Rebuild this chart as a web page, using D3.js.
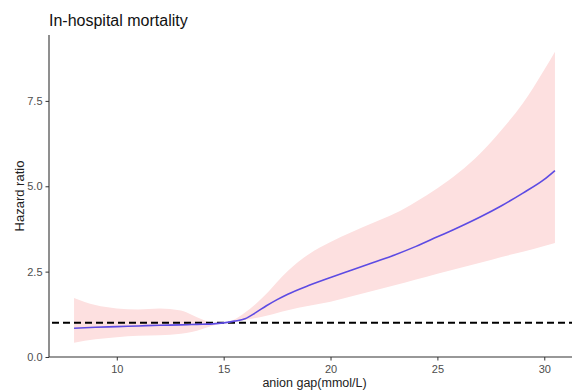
<!DOCTYPE html>
<html>
<head>
<meta charset="utf-8">
<script src="https://cdn.jsdelivr.net/npm/d3@7"></script>
<style>
  html, body { margin: 0; padding: 0; background: #ffffff; }
  svg { display: block; }
  text { font-family: "Liberation Sans", Arial, sans-serif; }
</style>
</head>
<body>
<svg id="chart" width="572" height="390"></svg>
<script>
// Anion gap (mmol/L) grid of the spline fit
const anionGap = [8, 9, 10, 11, 12, 13, 13.5, 14, 14.5, 15, 15.5, 16, 16.5, 17, 17.5, 18, 19, 20, 21, 22, 23, 24, 25, 26, 27, 28, 29, 30, 30.5];
// Estimated hazard ratio
const hazardRatio = [0.84, 0.87, 0.89, 0.91, 0.93, 0.94, 0.95, 0.96, 0.97, 1.0, 1.05, 1.12, 1.3, 1.5, 1.68, 1.84, 2.1, 2.33, 2.55, 2.77, 2.99, 3.24, 3.52, 3.8, 4.1, 4.43, 4.8, 5.2, 5.46];
// 95% confidence band
const upperCI = [1.73, 1.52, 1.42, 1.39, 1.42, 1.36, 1.24, 1.1, 1.0, 1.01, 1.1, 1.3, 1.55, 1.85, 2.2, 2.52, 3.02, 3.37, 3.66, 3.93, 4.2, 4.55, 4.94, 5.4, 5.96, 6.65, 7.43, 8.41, 8.94];
const lowerCI = [0.42, 0.52, 0.58, 0.62, 0.64, 0.68, 0.73, 0.82, 0.92, 0.99, 1.02, 1.08, 1.14, 1.21, 1.29, 1.37, 1.5, 1.62, 1.78, 1.94, 2.1, 2.27, 2.44, 2.6, 2.76, 2.93, 3.08, 3.25, 3.34];
// Axis ticks and reference level
const xTicks = [10, 15, 20, 25, 30];
const yTicks = [0, 2.5, 5, 7.5];
const referenceHR = 1;

const rows = anionGap.map((g, i) => ({ x: g, y: hazardRatio[i], lo: lowerCI[i], hi: upperCI[i] }));

const svg = d3.select("#chart");
const panelLeft = 50, panelRight = 579, panelTop = 35, panelBottom = 357;

const x = d3.scaleLinear().domain([6.875, 31.625]).range([panelLeft, panelRight]);
const y = d3.scaleLinear().domain([0, 9.43]).range([panelBottom, panelTop]);

// Confidence band
svg.append("path")
  .datum(rows)
  .attr("fill", "#fde0e0")
  .attr("d", d3.area().curve(d3.curveMonotoneX)
    .x(d => x(d.x)).y0(d => y(d.lo)).y1(d => y(d.hi)));

// Reference line at HR = 1
svg.append("line")
  .attr("x1", panelLeft + 2).attr("x2", panelRight)
  .attr("y1", y(referenceHR)).attr("y2", y(referenceHR))
  .attr("stroke", "#000").attr("stroke-width", 2)
  .attr("stroke-dasharray", "7,4");

// Hazard ratio curve
svg.append("path")
  .datum(rows)
  .attr("fill", "none")
  .attr("stroke", "#5d4be3")
  .attr("stroke-width", 1.6)
  .attr("d", d3.line().curve(d3.curveMonotoneX).x(d => x(d.x)).y(d => y(d.y)));

// Axes
const xAxis = svg.append("g").attr("transform", `translate(0,${panelBottom})`)
  .call(d3.axisBottom(x).tickValues(xTicks).tickSize(3.5).tickPadding(5).tickFormat(d3.format("d")));
const yAxis = svg.append("g").attr("transform", `translate(${panelLeft - 1},0)`)
  .call(d3.axisLeft(y).tickValues(yTicks).tickSize(3.5).tickPadding(3).tickFormat(d3.format(".1f")));

[xAxis, yAxis].forEach(g => {
  g.select(".domain").attr("stroke", "#333").attr("stroke-width", 1.1);
  g.selectAll(".tick line").attr("stroke", "#333");
  g.selectAll(".tick text").attr("fill", "#4d4d4d").style("font-size", "11px")
    .style("font-family", "'Liberation Sans', Arial, sans-serif");
});
yAxis.select(".domain").attr("d", `M0,${panelTop}V${panelBottom}`);
xAxis.select(".domain").attr("d", `M${panelLeft - 1},0H${572}`);

// Title and axis labels
svg.append("text")
  .attr("x", 49).attr("y", 26)
  .attr("fill", "#111")
  .style("font-size", "16px")
  .text("In-hospital mortality");

svg.append("text")
  .attr("x", (panelLeft + panelRight) / 2).attr("y", 387.3)
  .attr("text-anchor", "middle")
  .attr("fill", "#222")
  .style("font-size", "12.5px")
  .text("anion gap(mmol/L)");

svg.append("text")
  .attr("transform", `translate(24,${(panelTop + panelBottom) / 2}) rotate(-90)`)
  .attr("text-anchor", "middle")
  .attr("fill", "#222")
  .style("font-size", "13px")
  .text("Hazard ratio");
</script>
</body>
</html>
